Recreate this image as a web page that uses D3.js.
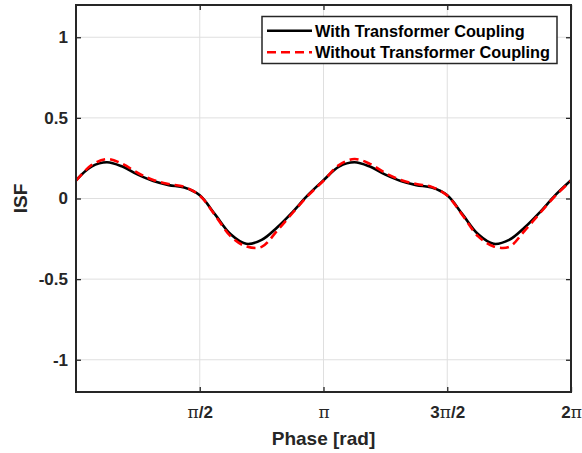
<!DOCTYPE html>
<html><head><meta charset="utf-8">
<script src="https://cdn.jsdelivr.net/npm/d3@7"></script>
<style>body{margin:0;background:#fff}svg{display:block}</style>
</head><body>
<svg id="c" width="582" height="453"></svg>
<script>
// phase in units of pi
const phase = [0,0.0625,0.125,0.1875,0.25,0.3125,0.375,0.4375,0.5,0.5625,0.625,0.6875,0.75,0.8125,0.875,0.9375,
  1,1.0625,1.125,1.1875,1.25,1.3125,1.375,1.4375,1.5,1.5625,1.625,1.6875,1.75,1.8125,1.875,1.9375,2];
const withCoupling = [0.113,0.198,0.225,0.198,0.148,0.108,0.083,0.068,0.02,-0.1,-0.222,-0.281,-0.257,-0.18,-0.084,0.022,
  0.113,0.198,0.225,0.198,0.148,0.108,0.083,0.068,0.02,-0.1,-0.222,-0.281,-0.257,-0.18,-0.084,0.022,0.113];
const withoutCoupling = [0.11,0.207,0.245,0.215,0.158,0.115,0.09,0.072,0.018,-0.105,-0.235,-0.297,-0.3,-0.2,-0.09,0.018,
  0.11,0.207,0.245,0.215,0.158,0.115,0.09,0.072,0.018,-0.105,-0.235,-0.297,-0.3,-0.2,-0.09,0.018,0.11];
const xTicks = [0.5,1,1.5,2];
const xTickLabels = [["π","/2"],["π",""],["3","π","/2"],["2","π"]];
const yTicks = [-1,-0.5,0,0.5,1];
const seriesNames = ["With Transformer Coupling","Without Transformer Coupling"];

const L=76,R=571,T=5,B=392;
const svg=d3.select("#c");
const x=d3.scaleLinear().domain([0,2]).range([L,R]);
const y=d3.scaleLinear().domain([-1.2,1.2]).range([B,T]);
const axisCol="#262626", gridCol="#dfdfdf";

// grid
svg.append("g").selectAll("line").data(xTicks.slice(0,3)).join("line")
  .attr("x1",d=>x(d)).attr("x2",d=>x(d)).attr("y1",T).attr("y2",B)
  .attr("stroke",gridCol).attr("stroke-width",1);
svg.append("g").selectAll("line").data(yTicks).join("line")
  .attr("x1",L).attr("x2",R).attr("y1",d=>y(d)).attr("y2",d=>y(d))
  .attr("stroke",gridCol).attr("stroke-width",1);

// axes via d3
const font="'Liberation Sans', Arial, Helvetica, sans-serif";
const gy=svg.append("g").attr("transform",`translate(${L},0)`)
  .call(d3.axisLeft(y).tickValues(yTicks).tickSize(-5).tickPadding(10).tickFormat(d=>d));
const gyR=svg.append("g").attr("transform",`translate(${R},0)`)
  .call(d3.axisRight(y).tickValues(yTicks).tickSize(-5).tickFormat(""));
const gx=svg.append("g").attr("transform",`translate(0,${B})`)
  .call(d3.axisBottom(x).tickValues(xTicks).tickSize(-5).tickPadding(12).tickFormat(""));
const gxT=svg.append("g").attr("transform",`translate(0,${T})`)
  .call(d3.axisTop(x).tickValues(xTicks).tickSize(-5).tickFormat(""));
[gy,gyR,gx,gxT].forEach(g=>{
  g.select(".domain").remove();
  g.selectAll(".tick line").attr("stroke",axisCol).attr("stroke-width",1.3);
});
gy.selectAll(".tick text").attr("font-family",font).attr("font-weight","bold")
  .attr("font-size",17).attr("fill",axisCol).attr("dx",2);

// x tick labels with pi glyph
gx.selectAll(".tick").each(function(d,i){
  const t=d3.select(this).select("text").text("").attr("y",26).attr("dy",0)
    .attr("font-family",font).attr("font-weight","bold").attr("font-size",17).attr("fill",axisCol);
  xTickLabels[i].forEach(s=>{
    const ts=t.append("tspan").text(s);
    if(s==="π") ts.attr("font-family","'DejaVu Serif', 'Liberation Serif', serif").attr("font-weight","normal").attr("font-size",17);
  });
});

// lines
const clip=svg.append("clipPath").attr("id","clp").append("rect")
  .attr("x",L).attr("y",T).attr("width",R-L).attr("height",B-T);
const line=d3.line().x((d,i)=>x(phase[i])).y(d=>y(d)).curve(d3.curveCatmullRom.alpha(0.5));
const plot=svg.append("g").attr("clip-path","url(#clp)");
plot.append("path").datum(withCoupling).attr("d",line).attr("fill","none")
  .attr("stroke","#000").attr("stroke-width",2.6);
plot.append("path").datum(withoutCoupling).attr("d",line).attr("fill","none")
  .attr("stroke","#ff0000").attr("stroke-width",2.6).attr("stroke-dasharray","9,5");

// box
svg.append("rect").attr("x",L).attr("y",T).attr("width",R-L).attr("height",B-T)
  .attr("fill","none").attr("stroke",axisCol).attr("stroke-width",2);

// axis labels
svg.append("text").attr("x",(L+R)/2).attr("y",445).attr("text-anchor","middle")
  .attr("font-family",font).attr("font-weight","bold").attr("font-size",19).attr("fill",axisCol)
  .text("Phase [rad]");
svg.append("text").attr("transform",`translate(27,${y(0)}) rotate(-90)`).attr("text-anchor","middle")
  .attr("font-family",font).attr("font-weight","bold").attr("font-size",19).attr("fill",axisCol)
  .text("ISF");

// legend
const lg=svg.append("g");
lg.append("rect").attr("x",262).attr("y",16.5).attr("width",295).attr("height",47)
  .attr("fill","#fff").attr("stroke",axisCol).attr("stroke-width",1.5);
const rows=[{y:30.7,col:"#000",dash:null},{y:52.3,col:"#ff0000",dash:"9,5"}];
rows.forEach((r,i)=>{
  const ln=lg.append("line").attr("x1",267).attr("x2",312).attr("y1",r.y).attr("y2",r.y)
    .attr("stroke",r.col).attr("stroke-width",2.6);
  if(r.dash) ln.attr("stroke-dasharray",r.dash);
  lg.append("text").attr("x",315).attr("y",r.y+6).attr("font-family",font).attr("font-weight","bold")
    .attr("font-size",16.3).attr("fill","#000").text(seriesNames[i]);
});
</script>
</body></html>
